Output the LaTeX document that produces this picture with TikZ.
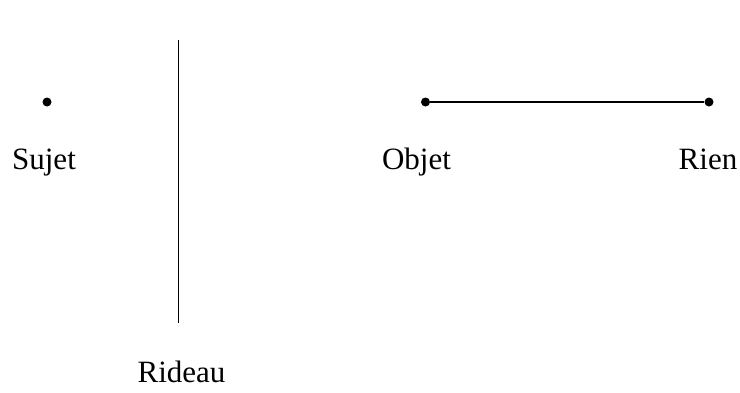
\documentclass[tikz,border=0pt]{standalone}
\usepackage{fontspec}
\setmainfont{Liberation Serif}
\begin{document}
\begin{tikzpicture}[x=1pt,y=-1pt,
    point/.style={circle,fill=black,inner sep=0pt,minimum size=9pt},
    lbl/.style={anchor=base,inner sep=0pt,font=\fontsize{31}{36}\selectfont}]
    \useasboundingbox (0,0) rectangle (740,392);
    \node[point] (sujet) at (47,102) {};
    \node[lbl] (sujetlbl) at (44,169) {Sujet};
    \coordinate (haut) at (178,40);
    \coordinate (bas) at (178,323);
    \draw[line width=1pt] (haut) -- (bas);
    \node[lbl] (rideau) at (181.5,382) {Rideau};
    \node[point] (objet) at (425.5,102) {};
    \node[point] (rien) at (709,102) {};
    \draw[line width=1.8pt] (objet) -- (rien);
    \node[lbl] (objetlbl) at (416.5,169) {Objet};
    \node[lbl] (rienlbl) at (708,169) {Rien};
\end{tikzpicture}
\end{document}
